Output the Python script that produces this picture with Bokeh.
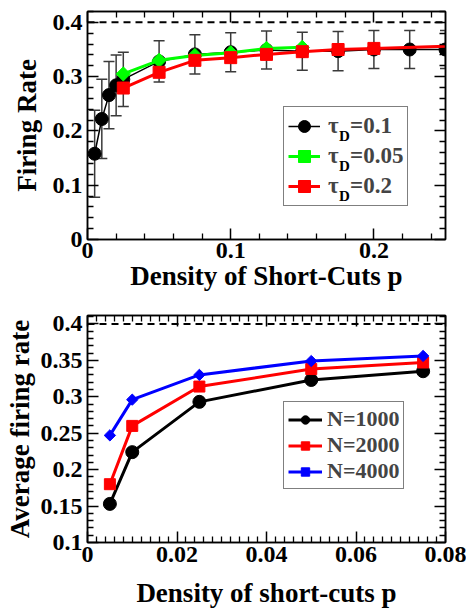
import numpy as np
from bokeh.plotting import figure
from bokeh.models import (Range1d, LinearAxis, FixedTicker, CustomJSTickFormatter, Span,
                          Legend, LegendItem, Label, ColumnDataSource, CDSView, IndexFilter)
from bokeh.layouts import column
from bokeh.embed import file_html
from bokeh.resources import INLINE

# ---------------- top panel data ----------------
p_tau01 = [0.005, 0.01, 0.015, 0.02, 0.025, 0.05, 0.075, 0.1, 0.125, 0.15, 0.175, 0.2, 0.225, 0.25]
rate_tau01 = [0.158, 0.222, 0.266, 0.284, 0.295, 0.328, 0.341, 0.345, 0.349, 0.347, 0.347, 0.350, 0.350, 0.350]
err_tau01 = [0.080, 0.073, 0.062, 0.056, 0.050, 0.038, 0.036, 0.036, 0.035, 0.035, 0.036, 0.035, 0.035, 0.035]
p_tau005 = [0.025, 0.05, 0.075, 0.1, 0.125, 0.15]
rate_tau005 = [0.305, 0.330, 0.339, 0.344, 0.352, 0.354]
p_tau02 = [0.025, 0.05, 0.075, 0.1, 0.125, 0.15, 0.175, 0.2, 0.25]
rate_tau02 = [0.279, 0.308, 0.330, 0.335, 0.341, 0.346, 0.350, 0.352, 0.356]
tau02_marked = [0, 1, 2, 3, 4, 5, 6, 7]
saturation = 0.4

top_x_major = [0, 0.1, 0.2]
top_y_major = [0, 0.1, 0.2, 0.3, 0.4]

# ---------------- bottom panel data ----------------
p_n = [0.005, 0.01, 0.025, 0.05, 0.075]
rate_n1000 = [0.153, 0.224, 0.293, 0.323, 0.335]
rate_n2000 = [0.180, 0.260, 0.314, 0.338, 0.347]
rate_n4000 = [0.247, 0.296, 0.330, 0.349, 0.356]

bot_x_major = [0, 0.02, 0.04, 0.06, 0.08]
bot_y_major = [0.1, 0.15, 0.2, 0.25, 0.3, 0.35, 0.4]

FONT = "Liberation Serif"


def minor_between(major, n):
    out = []
    for a, b in zip(major[:-1], major[1:]):
        step = (b - a) / n
        out += [round(a + k * step, 6) for k in range(1, n)]
    return out


def style_axis(ax, major, minor, labels=True, tick_size="24px"):
    ax.ticker = FixedTicker(ticks=major, minor_ticks=minor)
    ax.major_tick_in = 11
    ax.major_tick_out = 0
    ax.minor_tick_in = 6
    ax.minor_tick_out = 0
    ax.major_tick_line_color = "black"
    ax.minor_tick_line_color = "black"
    ax.major_tick_line_width = 1.5
    ax.minor_tick_line_width = 1.3
    ax.axis_line_color = "black"
    ax.axis_line_width = 1.5
    if labels:
        ax.formatter = CustomJSTickFormatter(code="return String(parseFloat(tick.toFixed(4)));")
        ax.major_label_text_font = FONT
        ax.major_label_text_font_style = "bold"
        ax.major_label_text_font_size = tick_size
        ax.major_label_text_color = "black"
        ax.axis_label_text_font = FONT
        ax.axis_label_text_font_style = "bold"
        ax.axis_label_text_font_size = "27px"
        ax.axis_label_text_color = "black"
    else:
        ax.formatter = CustomJSTickFormatter(code="return '';")
        ax.major_label_text_font_size = "0px"
        ax.major_label_standoff = 0


# ======================= TOP FIGURE =======================
top = figure(width=466, height=300, x_range=Range1d(0, 0.25), y_range=Range1d(0, 0.42),
             output_backend="svg", toolbar_location=None,
             min_border_left=87, min_border_right=19, min_border_top=11, min_border_bottom=61)
top.grid.visible = False
top.outline_line_color = "black"
top.outline_line_width = 1.5

tx_minor = minor_between(top_x_major + [0.3], 5)
ty_minor = minor_between(top_y_major + [0.5], 5)
style_axis(top.xaxis[0], top_x_major, tx_minor)
style_axis(top.yaxis[0], top_y_major, ty_minor)
top.xaxis[0].axis_label = "Density of Short-Cuts p"
top.yaxis[0].axis_label = "Firing Rate"
top.xaxis[0].major_label_standoff = 3
top.xaxis[0].axis_label_standoff = 0
top.yaxis[0].major_label_standoff = 5
top.yaxis[0].axis_label_standoff = 8
ax_t = LinearAxis()
style_axis(ax_t, top_x_major, tx_minor, labels=False)
top.add_layout(ax_t, "above")
ax_r = LinearAxis()
style_axis(ax_r, top_y_major, ty_minor, labels=False)
top.add_layout(ax_r, "right")

top.add_layout(Span(location=saturation, dimension="width", line_color="black",
                    line_dash="7 5", line_width=2))

lo = [r - e for r, e in zip(rate_tau01, err_tau01)]
hi = [r + e for r, e in zip(rate_tau01, err_tau01)]
top.segment(x0=p_tau01, y0=lo, x1=p_tau01, y1=hi, line_color="#3a3a3a", line_width=1.5)
top.scatter(p_tau01, lo, marker="dash", size=11, line_color="#3a3a3a", line_width=1.5)
top.scatter(p_tau01, hi, marker="dash", size=11, line_color="#3a3a3a", line_width=1.5)

l1 = top.line(p_tau01, rate_tau01, line_color="black", line_width=1.5)
s1 = top.scatter(p_tau01, rate_tau01, marker="circle", size=13, fill_color="black", line_color="black")
l2 = top.line(p_tau005, rate_tau005, line_color="#00ff00", line_width=3)
s2 = top.scatter(p_tau005, rate_tau005, marker="square", angle=np.pi / 4, size=10,
                 fill_color="#00ff00", line_color="#00ff00")
l3 = top.line(p_tau02, rate_tau02, line_color="#ff0000", line_width=3)
src_red = ColumnDataSource(dict(x=p_tau02, y=rate_tau02))
s3 = top.scatter("x", "y", source=src_red, view=CDSView(filter=IndexFilter(tau02_marked)),
                 marker="square", size=12, fill_color="#ff0000", line_color="#ff0000")

# subscript "D" of the legend labels (drawn below a transparent legend box)
for yy in [0.190, 0.135, 0.080]:
    top.add_layout(Label(x=0.1757, y=yy, text="D", text_font=FONT, text_font_style="bold",
                         text_font_size="15px", text_baseline="alphabetic", text_color="black"))

leg_top = Legend(items=[LegendItem(label="τ\u2002=0.1", renderers=[l1, s1]),
                        LegendItem(label="τ\u2002=0.05", renderers=[l2, s2]),
                        LegendItem(label="τ\u2002=0.2", renderers=[l3, s3])],
                 location=(196, 33), label_text_font=FONT, label_text_font_style="bold",
                 label_text_font_size="23px", glyph_width=32, glyph_height=30, label_height=30,
                 spacing=0, padding=4, margin=0, label_standoff=8,
                 border_line_color="black", border_line_width=1.2,
                 background_fill_color=None, background_fill_alpha=0)
top.add_layout(leg_top)

# ======================= BOTTOM FIGURE =======================
bot = figure(width=466, height=310, x_range=Range1d(0, 0.08), y_range=Range1d(0.1, 0.4115),
             output_backend="svg", toolbar_location=None,
             min_border_left=86, min_border_right=21, min_border_top=15, min_border_bottom=67)
bot.grid.visible = False
bot.outline_line_color = "black"
bot.outline_line_width = 1.5

bx_minor = minor_between(bot_x_major, 10)
by_minor = minor_between(bot_y_major + [0.45], 5)
style_axis(bot.xaxis[0], bot_x_major, bx_minor)
style_axis(bot.yaxis[0], bot_y_major, by_minor)
bot.xaxis[0].axis_label = "Density of short-cuts p"
bot.yaxis[0].axis_label = "Average firing rate"
bot.xaxis[0].major_label_standoff = 4
bot.xaxis[0].axis_label_standoff = 13
bot.yaxis[0].major_label_standoff = 5
bot.yaxis[0].axis_label_standoff = 3
bx_t = LinearAxis()
style_axis(bx_t, bot_x_major, bx_minor, labels=False)
bot.add_layout(bx_t, "above")
by_r = LinearAxis()
style_axis(by_r, bot_y_major, by_minor, labels=False)
bot.add_layout(by_r, "right")

bot.add_layout(Span(location=saturation, dimension="width", line_color="black",
                    line_dash="7 5", line_width=2))

m1 = bot.line(p_n, rate_n1000, line_color="black", line_width=3)
n1 = bot.scatter(p_n, rate_n1000, marker="circle", size=13, fill_color="black", line_color="black")
m2 = bot.line(p_n, rate_n2000, line_color="#ff0000", line_width=3)
n2 = bot.scatter(p_n, rate_n2000, marker="square", size=11, fill_color="#ff0000", line_color="#ff0000")
m3 = bot.line(p_n, rate_n4000, line_color="#0000ff", line_width=3)
n3 = bot.scatter(p_n, rate_n4000, marker="square", angle=np.pi / 4, size=8,
                 fill_color="#0000ff", line_color="#0000ff")

leg_bot = Legend(items=[LegendItem(label="N=1000", renderers=[m1, n1]),
                        LegendItem(label="N=2000", renderers=[m2, n2]),
                        LegendItem(label="N=4000", renderers=[m3, n3])],
                 location=(196, 53), label_text_font=FONT, label_text_font_style="bold",
                 label_text_font_size="22px",
                 glyph_width=34, glyph_height=21, label_height=21,
                 spacing=0, padding=4, margin=0, label_standoff=5,
                 border_line_color="black", border_line_width=1.2, background_fill_alpha=1)
bot.add_layout(leg_bot)

layout = column(top, bot, spacing=0)
open("out.html", "w").write(file_html(layout, INLINE))
